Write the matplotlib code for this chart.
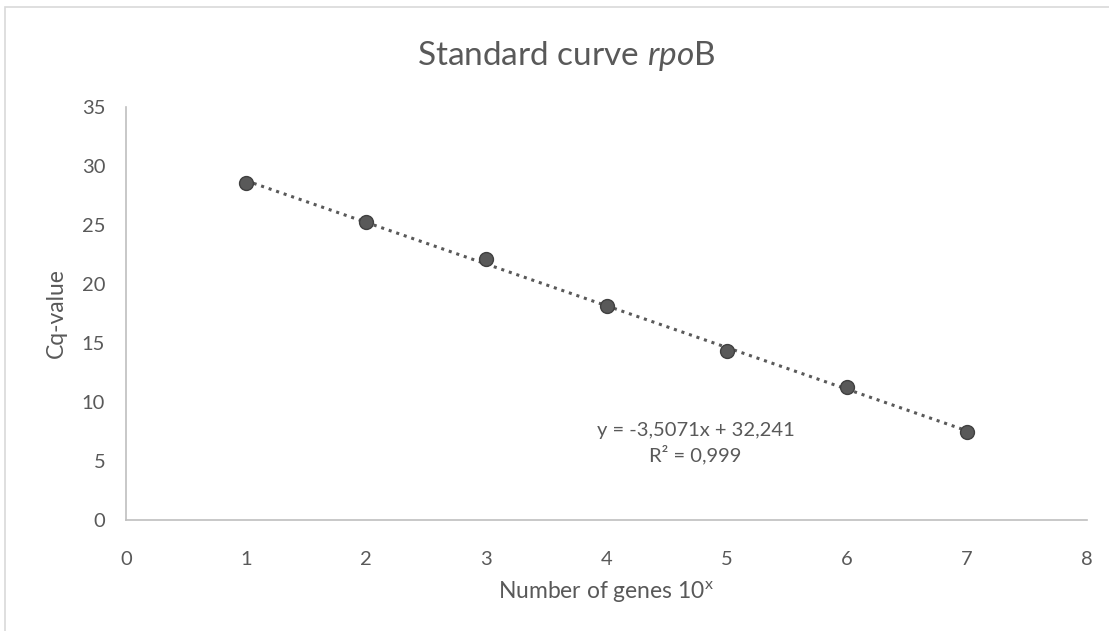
import matplotlib
matplotlib.use("Agg")
import matplotlib.pyplot as plt
from matplotlib.patches import Rectangle
import numpy as np

# data
genes_exp = [1, 2, 3, 4, 5, 6, 7]
cq_values = [28.55, 25.25, 22.1, 18.1, 14.35, 11.25, 7.5]
x_ticks = [0, 1, 2, 3, 4, 5, 6, 7, 8]
y_ticks = [0, 5, 10, 15, 20, 25, 30, 35]
eq_text = "y = -3,5071x + 32,241\nR² = 0,999"

plt.rcParams['font.family'] = ['Lato', 'DejaVu Sans']
plt.rcParams['mathtext.fontset'] = 'custom'
plt.rcParams['mathtext.rm'] = 'Lato'
plt.rcParams['mathtext.it'] = 'Lato:italic'

text_col = '#595959'
W, H = 1109, 631
fig = plt.figure(figsize=(W / 100, H / 100), dpi=100)
fig.patches.append(Rectangle((5 / W, -0.1), 1.2, (H - 7) / H + 0.1,
                             transform=fig.transFigure, fill=False,
                             edgecolor='#d9d9d9', linewidth=1.2))

ax = fig.add_axes([126 / W, (H - 520) / H, (1087 - 126) / W, (520 - 107) / H])

# trendline (linear fit), dotted
coef = np.polyfit(genes_exp, cq_values, 1)
xs = np.array([genes_exp[0], genes_exp[-1]])
ax.plot(xs, np.polyval(coef, xs), linestyle=(0, (1, 1.6)), color=text_col,
        linewidth=2.2, zorder=2)
ax.plot(genes_exp, cq_values, 'o', markersize=10, color='#595959',
        markeredgecolor='#404040', markeredgewidth=1, zorder=3)

ax.set_xlim(0, 8)
ax.set_ylim(0, 35)
ax.set_xticks(x_ticks)
ax.set_yticks(y_ticks)
ax.tick_params(length=0, labelsize=14.5, colors=text_col)
ax.tick_params(axis='x', pad=22)
ax.tick_params(axis='y', pad=15)
for s in ['top', 'right']:
    ax.spines[s].set_visible(False)
for s in ['left', 'bottom']:
    ax.spines[s].set_color('#bfbfbf')
    ax.spines[s].set_linewidth(1.2)

ax.set_xlabel(r'Number of genes 10$^{\mathrm{x}}$', fontsize=16.5, color=text_col, labelpad=8)
ax.set_ylabel('Cq-value', fontsize=16.5, color=text_col, labelpad=11)

ax.text(4.74, 6.5, eq_text, ha='center', va='center', fontsize=14.5,
        color=text_col, linespacing=1.3)

fig.text(566 / W, (H - 56) / H, r'Standard curve $\mathit{rpo}$B', ha='center',
         va='center', fontsize=24, color=text_col)

fig.savefig('out.png', dpi=100)
